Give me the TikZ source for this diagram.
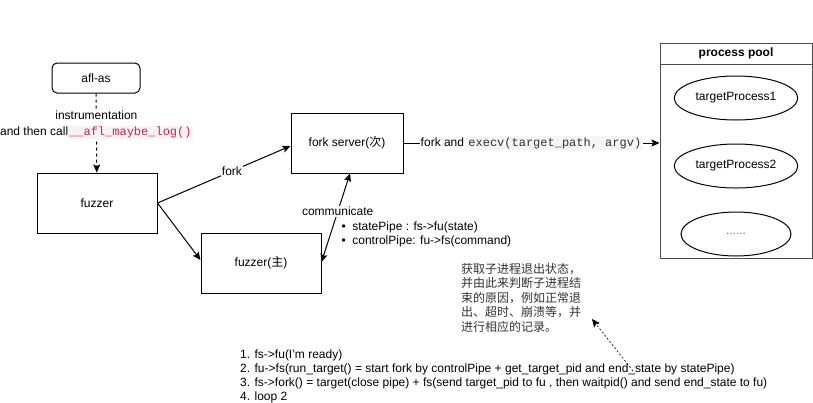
\documentclass[tikz,border=0pt]{standalone}
\usepackage{fontspec}
\setmainfont{Liberation Sans}
\setmonofont{Liberation Mono}
\newfontfamily\cjkfont{Noto Sans CJK SC}
\usepackage{xcolor}
\usetikzlibrary{shapes.geometric, arrows.meta, positioning}

\definecolor{codepink}{HTML}{C7254E}
\definecolor{codepinkbg}{HTML}{F9F2F4}
\definecolor{codegraybg}{HTML}{F5F5F5}
\definecolor{notegray}{HTML}{333333}

\newcommand{\pinkcode}[1]{{\setlength{\fboxsep}{1pt}\colorbox{codepinkbg}{\ttfamily\textcolor{codepink}{#1}}}}
\newcommand{\graycode}[1]{{\setlength{\fboxsep}{1pt}\colorbox{codegraybg}{\ttfamily\textcolor{notegray}{#1}}}}

\begin{document}
\begin{tikzpicture}[
  x=1pt, y=-1pt,
  font=\fontsize{12}{14}\selectfont,
  box/.style     = {rectangle, draw=black, line width=1pt,
                    minimum width=120, minimum height=60, align=center},
  target/.style  = {ellipse, draw=black, line width=1pt,
                    minimum width=110, minimum height=44},
  lbl/.style     = {fill=white, inner sep=1pt},
  link/.style    = {-{Stealth[length=8pt, width=7pt, inset=1.5pt]}, line width=1pt},
  dlink/.style   = {{Stealth[length=8pt, width=7pt, inset=1.5pt]}-{Stealth[length=8pt, width=7pt, inset=1.5pt]}, line width=1pt}
]
\useasboundingbox (0,0) rectangle (813,402);

% ---------- processes ----------
\node[box, rounded corners=5pt, minimum width=88, minimum height=30] (aflas) at (96,78) {afl-as};
\node[box] (fuzzer) at (97,203) {fuzzer};
\node[box, minimum width=112] (forksrv) at (347,143) {fork server({\cjkfont 次})};
\node[box] (fuzzermain) at (261,263) {fuzzer({\cjkfont 主})};

% ---------- process pool ----------
\node[rectangle, draw=black!70, line width=1pt, minimum width=152, minimum height=215] (pool) at (736,150.5) {};
\node[anchor=north, minimum height=22, font=\fontsize{12}{14}\selectfont\bfseries] (pooltitle) at (pool.north) {process pool};
\draw[black!70, line width=1pt] (pool.west |- pooltitle.south) -- (pool.east |- pooltitle.south);

\node[target] (tp1) at (736,98) {targetProcess1};
\node[target] (tp2) at (736,166) {targetProcess2};
\node[target] (tp3) at (736,234) {\textcolor{black!55}{......}};

% ---------- connectors ----------
\draw[link, dash pattern=on 3pt off 3pt] (aflas) -- (fuzzer)
  node[pos=0.4, lbl, align=center] (instr) {instrumentation\\[2pt]and then call\pinkcode{\_\_afl\_maybe\_log()}};

\draw[link] (fuzzer.east) -- ([yshift=-3pt]forksrv.west)
  node[pos=0.56, lbl] (forklbl) {fork};
\draw[link] (fuzzer.east) -- ([yshift=3pt]fuzzermain.west);

\draw[dlink] ([xshift=3pt]forksrv.south) -- ([yshift=1pt]fuzzermain.east)
  node[pos=0.43, lbl] (comm) {communicate};
\node[anchor=west, align=left] (pipes) at (338,234)
  {\textbullet\ \ statePipe : fs->fu(state)\\\textbullet\ \ controlPipe: fu->fs(command)};

\draw[link] (forksrv.east) -- (pool.west |- forksrv.east)
  node[midway, lbl] (execlbl) {fork and \graycode{execv(target\_path, argv)}};

% ---------- notes ----------
\node[anchor=north west, align=left, inner sep=0, text=notegray,
      font=\cjkfont\fontsize{12}{14.5}\selectfont] (note) at (461,263)
  {获取子进程退出状态，\\并由此来判断子进程结\\束的原因，例如正常退\\出、超时、崩溃等，并\\进行相应的记录。};

\node[anchor=north west, align=left, inner sep=0] (steps) at (240,350)
  {1. fs->fu(I'm ready)\\
   2. fu->fs(run\_target() = start fork by controlPipe + get\_target\_pid and end\_state by statePipe)\\
   3. fs->fork() = target(close pipe) + fs(send target\_pid to fu , then waitpid() and send end\_state to fu)\\
   4. loop 2};

\coordinate (hintfrom) at (633,371);
\coordinate (hintto) at (592,319);
\draw[link, line width=0.6pt, dash pattern=on 2pt off 2pt] (hintfrom) -- (hintto);

\end{tikzpicture}
\end{document}
